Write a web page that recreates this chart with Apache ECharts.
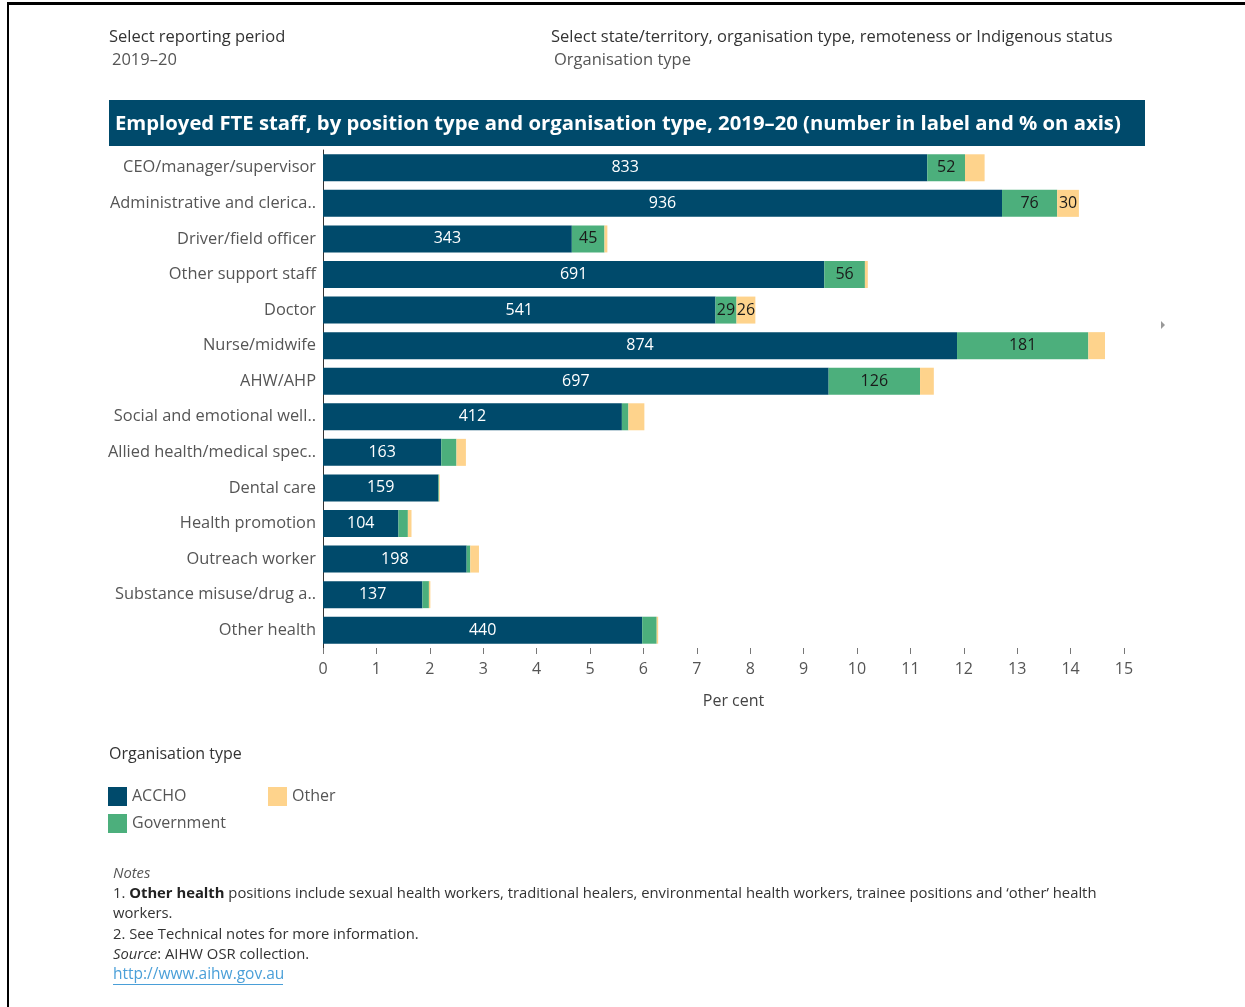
<!DOCTYPE html>
<html>
<head>
<meta charset="utf-8">
<title>Employed FTE staff, by position type and organisation type, 2019–20</title>
<script src="https://cdn.jsdelivr.net/npm/echarts@6/dist/echarts.min.js"></script>
<style>
  html, body { margin: 0; padding: 0; background: #ffffff; }
  #chart { width: 1245px; height: 1007px; }
</style>
</head>
<body>
<div id="chart"></div>
<script>
// Position types, top to bottom
const categories = [
  'CEO/manager/supervisor',
  'Administrative and clerica..',
  'Driver/field officer',
  'Other support staff',
  'Doctor',
  'Nurse/midwife',
  'AHW/AHP',
  'Social and emotional well..',
  'Allied health/medical spec..',
  'Dental care',
  'Health promotion',
  'Outreach worker',
  'Substance misuse/drug a..',
  'Other health'
];

// Employed FTE staff by organisation type
const acchoFte      = [833, 936, 343, 691, 541, 874, 697, 412, 163, 159, 104, 198, 137, 440];
const governmentFte = [52, 76, 45, 56, 29, 181, 126, 9, 21, 1, 13, 5, 9, 20];
const otherFte      = [27, 30, 4, 4, 26, 23, 19, 22, 13, 1, 5, 12, 2, 2];

// Segments of the "Other" series that carry a number label
const otherLabelled = ['Administrative and clerica..', 'Doctor'];

// Per cent axis ticks
const axisMin = 0;
const axisMax = 15;
const axisStep = 1;

const colors = { ACCHO: '#004a6b', Government: '#4caf7c', Other: '#fed38c' };

const FONT = '"Open Sans", "Noto Sans", sans-serif';

const totalFte = [...acchoFte, ...governmentFte, ...otherFte].reduce((a, b) => a + b, 0);
const toPct = v => v / totalFte * 100;

function makeData(values, showFn) {
  return values.map((v, i) => ({
    value: toPct(v),
    fte: v,
    label: { show: showFn(v, categories[i]) }
  }));
}

const chart = echarts.init(document.getElementById('chart'), null, { renderer: 'canvas' });

const option = {
  backgroundColor: '#ffffff',
  animation: false,
  textStyle: { fontFamily: FONT },
  grid: { left: 323, top: 150, width: 801, height: 498, containLabel: false },
  xAxis: {
    type: 'value',
    min: axisMin,
    max: axisMax,
    interval: axisStep,
    name: 'Per cent',
    nameLocation: 'middle',
    nameGap: 45,
    nameTextStyle: { color: '#444', fontSize: 16, fontFamily: FONT, padding: [0, 0, 0, 20] },
    axisLine: { show: false },
    axisTick: { show: true, length: 6, lineStyle: { color: '#777', width: 1 } },
    axisLabel: { color: '#555', fontSize: 16, fontFamily: FONT, margin: 13 },
    splitLine: { show: false }
  },
  yAxis: {
    type: 'category',
    data: categories,
    inverse: true,
    axisLine: { show: true, lineStyle: { color: '#333', width: 1 } },
    axisTick: { show: false },
    axisLabel: { color: '#555', fontSize: 16.4, fontFamily: FONT, margin: 7 }
  },
  legend: [
    {
      data: ['ACCHO', 'Government'],
      orient: 'vertical',
      left: 103, top: 782,
      itemWidth: 19, itemHeight: 19, itemGap: 8,
      icon: 'rect',
      textStyle: { color: '#555', fontSize: 16, fontFamily: FONT },
      selectedMode: false
    },
    {
      data: ['Other'],
      orient: 'vertical',
      left: 263, top: 782,
      itemWidth: 19, itemHeight: 19,
      icon: 'rect',
      textStyle: { color: '#555', fontSize: 16, fontFamily: FONT },
      selectedMode: false
    }
  ],
  series: [
    {
      name: 'ACCHO', type: 'bar', stack: 'fte', barWidth: 27,
      itemStyle: { color: colors.ACCHO },
      label: { position: 'inside', color: '#ffffff', fontSize: 16, fontFamily: FONT,
               formatter: p => p.data.fte },
      data: makeData(acchoFte, () => true)
    },
    {
      name: 'Government', type: 'bar', stack: 'fte', barWidth: 27,
      itemStyle: { color: colors.Government },
      label: { position: 'inside', color: '#1a1a1a', fontSize: 16, fontFamily: FONT,
               formatter: p => p.data.fte },
      data: makeData(governmentFte, v => v >= 25)
    },
    {
      name: 'Other', type: 'bar', stack: 'fte', barWidth: 27,
      itemStyle: { color: colors.Other },
      label: { position: 'inside', color: '#1a1a1a', fontSize: 16, fontFamily: FONT,
               formatter: p => p.data.fte },
      data: makeData(otherFte, (v, c) => otherLabelled.includes(c))
    }
  ],
  graphic: [
    // frame lines
    { type: 'rect', shape: { x: 7, y: 2, width: 1238, height: 3 }, style: { fill: '#000' }, silent: true },
    { type: 'rect', shape: { x: 7, y: 2, width: 2, height: 1005 }, style: { fill: '#000' }, silent: true },
    // filter headers
    { type: 'text', left: 109, top: 29, style: { text: 'Select reporting period', fill: '#333', font: '16.5px ' + FONT } },
    { type: 'text', left: 112, top: 52, style: { text: '2019–20', fill: '#555', font: '16.5px ' + FONT } },
    { type: 'text', left: 551, top: 29, style: { text: 'Select state/territory, organisation type, remoteness or Indigenous status', fill: '#333', font: '16.5px ' + FONT } },
    { type: 'text', left: 554, top: 52, style: { text: 'Organisation type', fill: '#555', font: '16.5px ' + FONT } },
    // title bar
    { type: 'rect', shape: { x: 109, y: 100, width: 1036, height: 46 }, style: { fill: '#004a6b' }, silent: true },
    { type: 'text', left: 115, top: 114, style: { text: 'Employed FTE staff, by position type and organisation type, 2019–20 (number in label and % on axis)', fill: '#ffffff', font: 'bold 20.3px ' + FONT } },
    // small scroll marker on the right
    { type: 'polygon', shape: { points: [[1161, 321], [1161, 329], [1165, 325]] }, style: { fill: '#999' }, silent: true },
    // legend heading
    { type: 'text', left: 109, top: 746, style: { text: 'Organisation type', fill: '#333', font: '16px ' + FONT } },
    // notes
    { type: 'text', left: 113, top: 866, style: { text: 'Notes', fill: '#555', font: 'italic 14.8px ' + FONT } },
    { type: 'text', left: 113, top: 886, style: {
        text: '1. {b|Other health} positions include sexual health workers, traditional healers, environmental health workers, trainee positions and ‘other’ health',
        fill: '#333', font: '14.8px ' + FONT,
        rich: { b: { fontWeight: 'bold', fontSize: 14.8, fontFamily: FONT, fill: '#222' } } } },
    { type: 'text', left: 113, top: 906, style: { text: 'workers.', fill: '#333', font: '14.8px ' + FONT } },
    { type: 'text', left: 113, top: 927, style: { text: '2. See Technical notes for more information.', fill: '#333', font: '14.8px ' + FONT } },
    { type: 'text', left: 113, top: 947, style: {
        text: '{i|Source}: AIHW OSR collection.', fill: '#333', font: '14.8px ' + FONT,
        rich: { i: { fontStyle: 'italic', fontSize: 14.8, fontFamily: FONT, fill: '#333' } } } },
    { type: 'text', left: 113, top: 967, style: { text: 'http://www.aihw.gov.au', fill: '#4a9fd8', font: '15.5px ' + FONT } },
    { type: 'rect', shape: { x: 113, y: 984, width: 170, height: 1 }, style: { fill: '#4a9fd8' }, silent: true }
  ]
};

chart.setOption(option);
</script>
</body>
</html>
